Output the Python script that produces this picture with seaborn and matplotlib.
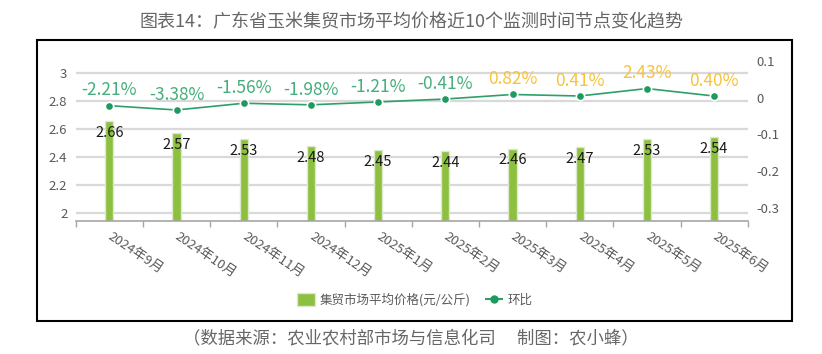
import numpy as np
import pandas as pd
import matplotlib
matplotlib.use("Agg")
import matplotlib.pyplot as plt
import seaborn as sns
from matplotlib.patches import Patch, Rectangle
from matplotlib.lines import Line2D

months = ['2024年9月', '2024年10月', '2024年11月', '2024年12月', '2025年1月',
          '2025年2月', '2025年3月', '2025年4月', '2025年5月', '2025年6月']
price = [2.66, 2.57, 2.53, 2.48, 2.45, 2.44, 2.46, 2.47, 2.53, 2.54]
mom_pct = [-2.21, -3.38, -1.56, -1.98, -1.21, -0.41, 0.82, 0.41, 2.43, 0.40]

BAR_C = '#8cc03e'
LINE_C = '#2e9f6b'
NEG_C = '#45ae7a'
POS_C = '#f7c33c'
GREY = '#595959'

sns.set_theme(style='white')
plt.rcParams['font.family'] = ['Noto Sans CJK SC', 'DejaVu Sans']
plt.rcParams['axes.unicode_minus'] = False

df = pd.DataFrame({'month': months, 'price': price, 'mom': np.array(mom_pct) / 100})
df['pos'] = np.arange(len(df))

W, H = 822, 354
fig = plt.figure(figsize=(W / 100, H / 100), dpi=100)
ax = fig.add_axes([75.7 / W, 1 - 221 / H, 672 / W, 161.6 / H])

sns.barplot(data=df, x='month', y='price', color=BAR_C, width=0.12, saturation=1,
            edgecolor='#dfe8cf', linewidth=1, ax=ax)
ax.set_ylim(1.94, 3.1)
ax.set_xlim(-0.5, 9.5)
ax.set_yticks([2, 2.2, 2.4, 2.6, 2.8, 3])
ax.set_yticklabels(['2', '2.2', '2.4', '2.6', '2.8', '3'])
ax.yaxis.grid(True, color='#d9d9d9', linewidth=1.6)
ax.set_axisbelow(True)
for s in ['left', 'right', 'top']:
    ax.spines[s].set_visible(False)
ax.spines['bottom'].set_color('#a6a6a6')
ax.spines['bottom'].set_linewidth(1.2)
ax.tick_params(axis='y', length=0, pad=6, labelsize=9.5, labelcolor=GREY)
ax.tick_params(axis='x', which='major', length=0, pad=10)
ax.set_xticks(np.arange(-0.5, 10, 1), minor=True)
ax.tick_params(axis='x', which='minor', length=4, color='#a6a6a6', width=1, bottom=True)
ax.set_xlabel('')
ax.set_ylabel('')
for lab in ax.get_xticklabels():
    lab.set_rotation(-34)
    lab.set_ha('left')
    lab.set_va('center')
    lab.set_rotation_mode('anchor')
    lab.set_fontsize(9.5)
    lab.set_color(GREY)

for i, v in enumerate(price):
    ax.annotate(f'{v:.2f}', (i, v), xytext=(0, -8.5), textcoords='offset points',
                ha='center', va='center', fontsize=10.5, color='#1a1a1a')

ax2 = ax.twinx()
sns.lineplot(data=df, x='pos', y='mom', color=LINE_C, linewidth=1.2, marker='o',
             markersize=6, markerfacecolor='#1f9a5e', markeredgecolor='white',
             markeredgewidth=1.2, ax=ax2)
ax2.set_ylim(-0.3347, 0.1033)
ax2.set_yticks([0.1, 0, -0.1, -0.2, -0.3])
ax2.set_yticklabels(['0.1', '0', '-0.1', '-0.2', '-0.3'])
ax2.tick_params(axis='y', length=0, pad=6, labelsize=9.5, labelcolor=GREY)
ax2.set_ylabel('')
ax2.set_xlabel('')
for s in ax2.spines.values():
    s.set_visible(False)
ax2.grid(False)
for i, v in enumerate(mom_pct):
    ax2.annotate(f'{v:.2f}%', (i, v / 100), xytext=(0, 11), textcoords='offset points',
                 ha='center', va='center', fontsize=12.5,
                 color=NEG_C if v < 0 else POS_C)

handles = [Patch(facecolor=BAR_C, edgecolor='#dfe8cf'),
           Line2D([0], [0], color=LINE_C, linestyle='--', marker='o', markersize=5,
                  markerfacecolor='#1f9a5e', markeredgecolor='#1f9a5e')]
fig.legend(handles, ['集贸市场平均价格(元/公斤)', '环比'], loc='center',
           bbox_to_anchor=(415 / W, 1 - 300 / H), ncol=2, frameon=False,
           fontsize=9, labelcolor=GREY, handlelength=1.4, handleheight=1.2,
           columnspacing=1.2, handletextpad=0.4)

fig.patches.append(Rectangle((37 / W, 1 - 321 / H), 755 / W, 281 / H,
                             transform=fig.transFigure, fill=False,
                             edgecolor='black', linewidth=1.5))

fig.text(411 / W, 1 - 22 / H, '图表14：广东省玉米集贸市场平均价格近10个监测时间节点变化趋势',
         ha='center', va='center', fontsize=13, color='#666666', fontweight='light')
fig.text(411 / W, 1 - 338 / H, '（数据来源：农业农村部市场与信息化司　 制图：农小蜂）',
         ha='center', va='center', fontsize=12.5, color='#666666', fontweight='light')

fig.savefig('out.png', dpi=100)
